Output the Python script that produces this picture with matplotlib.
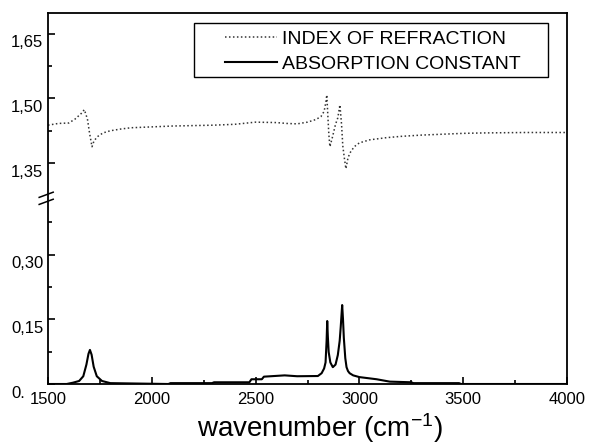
import numpy as np
import matplotlib
matplotlib.use("Agg")
import matplotlib.pyplot as plt
import matplotlib.transforms as mtransforms
from matplotlib.patches import Rectangle

plt.rcParams['font.family'] = ['Liberation Sans', 'DejaVu Sans']
plt.rcParams['mathtext.fontset'] = 'custom'
plt.rcParams['mathtext.rm'] = 'Liberation Sans'
plt.rcParams['mathtext.it'] = 'Liberation Sans:italic'

# ---- data ----
n_wavenumber = [1500, 1550, 1600, 1630, 1660, 1675, 1690, 1700, 1712, 1722, 1740, 1765,
                1800, 1850, 1900, 2000, 2100, 2200, 2300, 2400, 2500, 2600, 2650, 2700,
                2750, 2790, 2815, 2830, 2838, 2843, 2848, 2853, 2858, 2870, 2885, 2896,
                2906, 2914, 2920, 2928, 2935, 2945, 2955, 2975, 3000, 3050, 3130, 3200,
                3300, 3400, 3500, 3600, 3800, 4000]
n_values = [1.438, 1.442, 1.443, 1.452, 1.465, 1.474, 1.452, 1.420, 1.388, 1.402, 1.412, 1.420,
            1.425, 1.429, 1.432, 1.434, 1.436, 1.437, 1.438, 1.440, 1.445, 1.444, 1.442, 1.441,
            1.445, 1.451, 1.458, 1.470, 1.490, 1.508, 1.460, 1.415, 1.388, 1.410, 1.440, 1.455,
            1.485, 1.440, 1.390, 1.360, 1.337, 1.362, 1.374, 1.388, 1.397, 1.404, 1.409, 1.412,
            1.415, 1.417, 1.419, 1.420, 1.421, 1.421]

k_wavenumber = [1500, 1590, 1620, 1650, 1670, 1685, 1695, 1702, 1710, 1720, 1735, 1760,
                1800, 2080, 2090, 2290, 2300, 2470, 2480, 2530, 2540, 2640, 2700, 2800,
                2818, 2830, 2837, 2842, 2845, 2848, 2852, 2860, 2872, 2885, 2896, 2905,
                2910, 2917, 2921, 2925, 2932, 2938, 2945, 2953, 2970, 3000, 3083, 3146,
                3250, 3260, 3480, 3490, 4000]
k_values = [0.0, 0.0, 0.003, 0.007, 0.018, 0.045, 0.070, 0.079, 0.068, 0.040, 0.018, 0.007,
            0.002, 0.0, 0.002, 0.002, 0.004, 0.004, 0.011, 0.011, 0.017, 0.020, 0.018, 0.0185,
            0.025, 0.036, 0.050, 0.100, 0.146, 0.110, 0.074, 0.050, 0.039, 0.045, 0.067, 0.100,
            0.132, 0.183, 0.150, 0.107, 0.060, 0.039, 0.030, 0.025, 0.020, 0.016, 0.011, 0.0055,
            0.004, 0.002, 0.002, 0.0, 0.0]

xticks = [1500, 2000, 2500, 3000, 3500, 4000]
xtick_labels = ['1500', '2000', '2500', '3000', '3500', '4000']
yticks = [0.0, 0.15, 0.30, 1.35, 1.50, 1.65]
ytick_labels = ['0.', '0,15', '0,30', '1,35', '1,50', '1,65']
yminor = [0.075, 0.225, 0.375, 1.425, 1.575]

# ---- broken y scale ----
def fwd(v):
    v = np.asarray(v, dtype=float)
    return np.where(v <= 0.42, v,
                    np.where(v >= 1.27, v - 0.838, 0.42 + (v - 0.42) * (0.012 / 0.85)))

def inv(p):
    p = np.asarray(p, dtype=float)
    return np.where(p <= 0.42, p,
                    np.where(p >= 0.432, p + 0.838, 0.42 + (p - 0.42) * (0.85 / 0.012)))

W, H = 589, 446
fig = plt.figure(figsize=(W / 100, H / 100), dpi=100)
ax = fig.add_axes([48 / W, 1 - 384 / H, 519 / W, 371 / H])
ax.set_yscale('function', functions=(fwd, inv))

ax.plot(n_wavenumber, n_values, linestyle=(0, (1, 1.6)), color='#333333', lw=1.1,
        label='INDEX OF REFRACTION')
ax.plot(k_wavenumber, k_values, color='black', lw=1.5, label='ABSORPTION CONSTANT')

ax.set_xlim(1500, 4000)
ax.set_ylim(0, 1.698)

ax.set_xticks(xticks, xtick_labels, fontsize=12)
ax.set_xticks(np.arange(1750, 4000, 500), minor=True)
ax.set_yticks(yticks, [''] * len(yticks))
ax.set_yticks(yminor, minor=True)
ax.tick_params(axis='both', which='major', direction='in', length=5, width=1.2, pad=5.5)
ax.tick_params(axis='both', which='minor', direction='in', length=3, width=1.2)

for s in ax.spines.values():
    s.set_linewidth(1.3)

# y tick labels, left-aligned, shifted down like the reference
blend = mtransforms.blended_transform_factory(ax.transAxes, ax.transData)
off = mtransforms.offset_copy(blend, fig=fig, x=0, y=-9, units='dots')
for v, lab in zip(yticks, ytick_labels):
    ax.text(-0.0713, v, lab, transform=off, ha='left', va='center', fontsize=12)

# axis break marks
for y0 in (0.484, 0.503):
    ax.plot([-0.017, 0.01], [y0, y0 + 0.014], transform=ax.transAxes, color='black',
            lw=1.1, clip_on=False)

ax.set_xlabel('wavenumber (cm$^{-1}$)', fontsize=20)
ax.xaxis.set_label_coords(0.524, -0.074)

# legend
leg = ax.legend(loc='upper left', bbox_to_anchor=(0.342, 0.953), frameon=False,
                fontsize=14, borderpad=0, borderaxespad=0, handlelength=2.65,
                handletextpad=0.25, labelspacing=0.38)
ax.add_patch(Rectangle((0.281, 0.8275), 0.682, 0.1455, transform=ax.transAxes,
                       fill=False, edgecolor='black', lw=1.0, clip_on=False))

fig.savefig('out.png', dpi=100)
